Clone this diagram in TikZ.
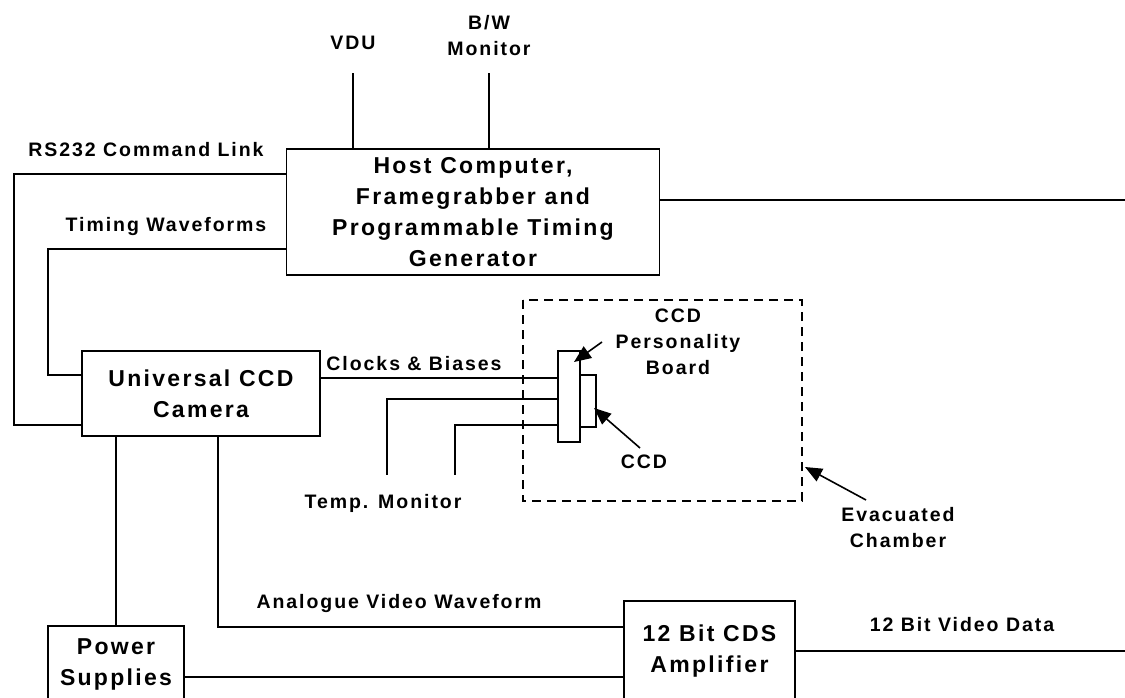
\documentclass[tikz,border=0pt]{standalone}
\usepackage{fontspec}
\setmainfont{Liberation Sans}[LetterSpace=10]
\usetikzlibrary{arrows.meta}
\newcommand\myboxfont{\bfseries\fontsize{23}{31}\selectfont}
\newcommand\mylblfont{\bfseries\fontsize{19.5}{26}\selectfont}
\begin{document}
\begin{tikzpicture}[x=1pt,y=-1pt,
  blk/.style={draw, line width=1.6pt, font=\myboxfont, align=center, inner sep=0pt},
  part/.style={draw, line width=1.6pt, inner sep=0pt},
  lbl/.style={font=\mylblfont, align=center, inner sep=0pt},
  conn/.style={line width=1.6pt},
  arr/.style={line width=1.6pt, -{Triangle[length=17pt,width=14pt]}},
  chamber/.style={draw, line width=2.5pt, dash pattern=on 9pt off 6pt}]
\useasboundingbox (0,0) rectangle (1125,698);
\clip (0,0) rectangle (1125,698);

% boxes
\node[blk, minimum width=373pt, minimum height=126pt] (host) at (473,212)
  {Host Computer,\\Framegrabber and\\Programmable Timing\\Generator};
\node[blk, minimum width=238pt, minimum height=85pt] (cam) at (201,393.5)
  {Universal CCD\\Camera};
\node[blk, minimum width=136pt, minimum height=76pt] (pw) at (116,664)
  {Power\\Supplies};
\node[blk, minimum width=171pt, minimum height=100pt] (amp) at (709.5,651)
  {12 Bit CDS\\Amplifier};
\node[part, minimum width=22pt, minimum height=91pt] (board) at (569,396.5) {};
\node[part, minimum width=16pt, minimum height=52pt] (ccd) at (588,401) {};
\draw[chamber] (523,300) rectangle (802,501);

% helper coordinates
\coordinate (yRS) at (0,174);
\coordinate (yTW) at (0,249);
\coordinate (yRSc) at (0,425);
\coordinate (yTWc) at (0,375);
\coordinate (yCB) at (0,378);
\coordinate (yT1) at (0,399);
\coordinate (yT2) at (0,425);
\coordinate (yAV) at (0,627);
\coordinate (yPW) at (0,677);
\coordinate (xVDU) at (353,0);
\coordinate (xBW) at (489,0);
\coordinate (xPS) at (116,0);
\coordinate (xAV) at (218,0);
\coordinate (vduEnd) at (353,73);
\coordinate (bwEnd) at (489,73);
\coordinate (hostOut) at (1125,200);
\coordinate (ampOut) at (1125,651);
\coordinate (t1End) at (387,475);
\coordinate (t2End) at (455,475);

% connectors
\draw[conn] (host.north -| xVDU) -- (vduEnd);
\draw[conn] (host.north -| xBW) -- (bwEnd);
\draw[conn] (host.west |- yRS) -| (14,425) -- (cam.west |- yRSc);
\draw[conn] (host.west |- yTW) -| (48,375) -- (cam.west |- yTWc);
\draw[conn] (host.east |- hostOut) -- (hostOut);
\draw[conn] (cam.east |- yCB) -- (board.west |- yCB);
\draw[conn] (board.west |- yT1) -| (t1End);
\draw[conn] (board.west |- yT2) -| (t2End);
\draw[conn] (cam.south -| xPS) -- (pw.north);
\draw[conn] (cam.south -| xAV) |- (amp.west |- yAV);
\draw[conn] (pw.east |- yPW) -- (amp.west |- yPW);
\draw[conn] (amp.east) -- (ampOut);

% arrows
\coordinate (a1) at (602,342);
\coordinate (a2) at (640,448);
\coordinate (a3) at (866,500);
\draw[arr] (a1) -- (574,362);
\draw[arr] (a2) -- (594,408);
\draw[arr] (a3) -- (805,467);

% labels
\node[lbl] (lvdu) at (353,43) {VDU};
\node[lbl] (lbw) at (489,36) {B/W\\Monitor};
\node[lbl] (lrs) at (146,150) {RS232 Command Link};
\node[lbl] (ltw) at (166,227) {Timing Waveforms};
\node[lbl] (lcb) at (414,364) {Clocks \& Biases};
\node[lbl] (lpb) at (678,342) {CCD\\Personality\\Board};
\node[lbl] (lccd) at (644,462) {CCD};
\node[lbl] (ltm) at (383,503) {Temp. Monitor};
\node[lbl] (lev) at (898,528) {Evacuated\\Chamber};
\node[lbl] (lav) at (399,603) {Analogue Video Waveform};
\node[lbl] (lvd) at (962,625) {12 Bit Video Data};
\end{tikzpicture}
\end{document}
